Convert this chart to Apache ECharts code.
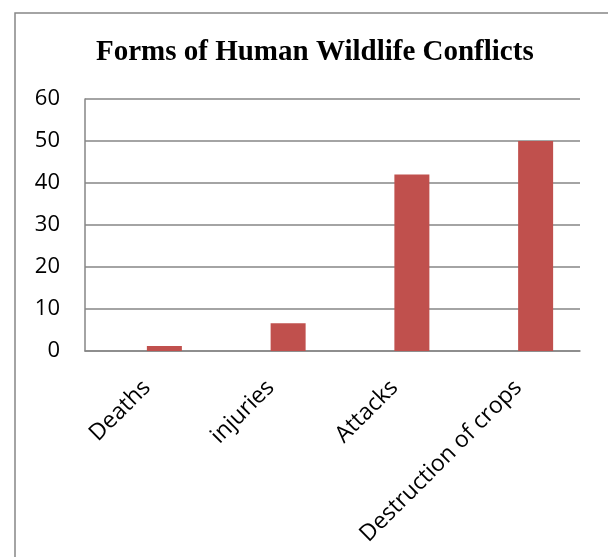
<!DOCTYPE html>
<html>
<head>
<meta charset="utf-8">
<script src="https://cdn.jsdelivr.net/npm/echarts@6/dist/echarts.min.js"></script>
<style>
html,body{margin:0;padding:0;background:#fff;}
#chart{width:608px;height:557px;}
</style>
</head>
<body>
<div id="chart"></div>
<script>
const titleText = 'Forms of Human Wildlife Conflicts';
const categories = ['Deaths', 'injuries', 'Attacks', 'Destruction of crops'];
const emptySeries = [null, null, null, null];
const values = [1.2, 6.6, 42, 50];
const yTicks = { min: 0, max: 60, interval: 10 };

const chart = echarts.init(document.getElementById('chart'), null, { renderer: 'canvas' });
chart.setOption({
  backgroundColor: '#fff',
  animation: false,
  title: {
    text: titleText,
    left: 91,
    top: 33,
    textStyle: { fontFamily: 'Liberation Serif', fontWeight: 'bold', fontSize: 29, color: '#000' }
  },
  graphic: [{
    type: 'rect',
    shape: { x: 15, y: 13, width: 800, height: 800 },
    style: { fill: 'none', stroke: '#878787', lineWidth: 1.5 },
    silent: true
  }],
  grid: { left: 85, right: 28, top: 99, bottom: 206, containLabel: false },
  xAxis: {
    type: 'category',
    data: categories,
    axisLine: { show: true, lineStyle: { color: '#868686', width: 1.5 } },
    axisTick: { show: false },
    axisLabel: { rotate: 45, margin: 33, interval: 0, fontFamily: 'Open Sans', fontSize: 23, color: '#000' },
    splitLine: { show: false }
  },
  yAxis: {
    type: 'value',
    min: yTicks.min, max: yTicks.max, interval: yTicks.interval,
    axisLine: { show: true, lineStyle: { color: '#868686', width: 1.5 } },
    axisTick: { show: false },
    axisLabel: { margin: 25, fontFamily: 'Open Sans', fontSize: 22, color: '#000' },
    splitLine: { show: true, lineStyle: { color: '#868686', width: 1.5 } }
  },
  series: [
    { type: 'bar', name: 'blank', data: emptySeries, barWidth: 35, barGap: '0%', itemStyle: { color: '#4F81BD' } },
    { type: 'bar', name: 'Forms', data: values, barWidth: 35, barGap: '0%', itemStyle: { color: '#C0504D' } }
  ]
});
</script>
</body>
</html>
